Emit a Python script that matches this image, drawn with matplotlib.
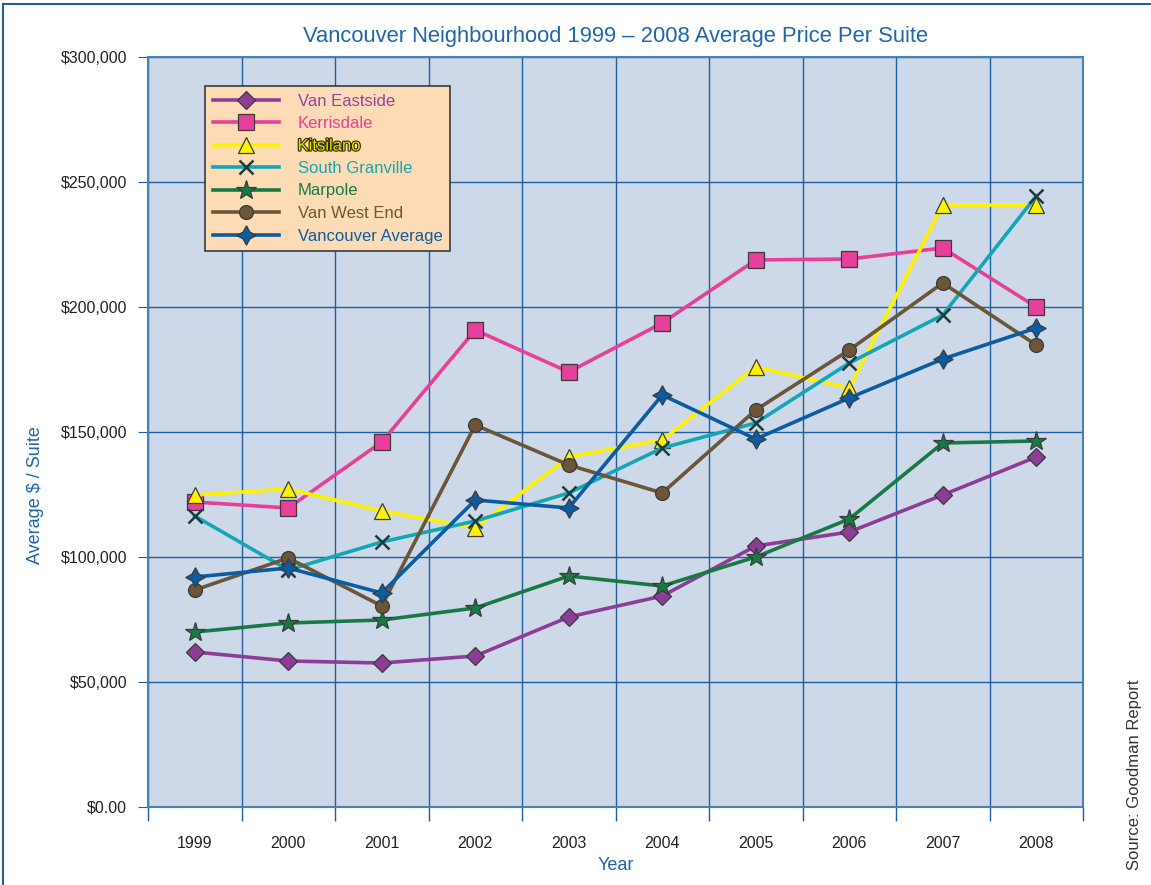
import matplotlib
matplotlib.use("Agg")
import matplotlib.pyplot as plt
from matplotlib.lines import Line2D
from matplotlib.ticker import FixedLocator, FuncFormatter
import matplotlib.patheffects as pe

plt.rcParams['font.family'] = ['Liberation Sans', 'DejaVu Sans']

years = ["1999", "2000", "2001", "2002", "2003", "2004", "2005", "2006", "2007", "2008"]
van_eastside = [62000, 58400, 57600, 60400, 76000, 84400, 104400, 110000, 124800, 140000]
kerrisdale = [122000, 119600, 146000, 190800, 174000, 193600, 218800, 219200, 223600, 200000]
kitsilano = [124800, 127200, 118400, 111600, 140000, 146800, 176000, 167600, 240800, 240800]
south_granville = [116400, 94800, 106000, 114400, 125600, 143600, 153600, 177600, 196800, 244400]
marpole = [70000, 73600, 74800, 79600, 92400, 88400, 100000, 115200, 145600, 146400]
van_west_end = [86800, 99600, 80400, 152800, 136800, 125600, 158800, 182800, 209600, 184800]
vancouver_avg = [92000, 95600, 85600, 122800, 119600, 164800, 147200, 163600, 179200, 191600]

series = [
    ("Van Eastside", van_eastside, '#8e3d97', 'D', '#8e3d97', 9, '#9b3f9f'),
    ("Kerrisdale", kerrisdale, '#e8409a', 's', '#e8409a', 11, '#e8409a'),
    ("Kitsilano", kitsilano, '#fff200', '^', '#fff200', 12, '#fff200'),
    ("South Granville", south_granville, '#14a6b6', 'x', '#1d3b3f', 10, '#14a6b6'),
    ("Marpole", marpole, '#177a45', '*', '#177a45', 15, '#177a45'),
    ("Van West End", van_west_end, '#6b5637', 'o', '#6b5637', 10, '#6b5637'),
    ("Vancouver Average", vancouver_avg, '#0b5ca2', (4, 1, 0), '#0b5ca2', 14, '#0b5ca2'),
]

fig = plt.figure(figsize=(11.51, 8.85), dpi=100)
ax = fig.add_axes([148/1151, 1-807/885, (1083-148)/1151, (807-57)/885])
ax.set_facecolor('#cdd9e8')

x = list(range(len(years)))
handles = []
for name, vals, col, mk, mfc, ms, tcol in series:
    if mk == 'x':
        h, = ax.plot(x, vals, color=col, lw=2.6, marker=mk, ms=ms, mec=mfc, mew=1.8, zorder=3)
    else:
        h, = ax.plot(x, vals, color=col, lw=2.6, marker=mk, ms=ms, mfc=mfc, mec='#3a3a3a', mew=0.9, zorder=3)
    handles.append(h)

ax.set_xlim(-0.5, 9.5)
ax.set_ylim(0, 300000)
ax.xaxis.set_major_locator(FixedLocator(x))
ax.set_xticklabels(years)
ax.xaxis.set_minor_locator(FixedLocator([i + 0.5 for i in range(-1, 10)]))
ax.tick_params(axis='x', which='major', length=0, pad=21, labelsize=11.5, labelcolor='#222222')
ax.tick_params(axis='x', which='minor', length=10, color='#1f5fa0', width=1)
ax.yaxis.set_major_locator(FixedLocator([0, 50000, 100000, 150000, 200000, 250000, 300000]))
ax.yaxis.set_major_formatter(FuncFormatter(lambda v, p: "$0.00" if v == 0 else "${:,.0f}".format(v)))
ax.tick_params(axis='y', length=7, color='#1f5fa0', labelsize=11.5, labelcolor='#222222', pad=8)
ax.grid(True, which='minor', axis='x', color='#1f5fa0', lw=1)
ax.grid(True, which='major', axis='y', color='#1f5fa0', lw=1)
ax.set_axisbelow(True)
for s in ax.spines.values():
    s.set_color('#4a80b8')
    s.set_linewidth(1.5)

ax.set_title("Vancouver Neighbourhood 1999 \u2013 2008 Average Price Per Suite",
             color='#1d66a8', fontsize=15.8, pad=11)
ax.set_xlabel("Year", color='#1d66a8', fontsize=13, labelpad=4)
ax.set_ylabel("Average $ / Suite", color='#1d66a8', fontsize=13)
ax.yaxis.set_label_coords(-(148-44)/935, (807-495)/750)

leg = ax.legend(handles, [s[0] for s in series], loc='upper left',
                bbox_to_anchor=((205-148)/935, (807-86)/750), frameon=True,
                fancybox=False, fontsize=12, handlelength=4.0, labelspacing=0.45,
                borderpad=0.45, handletextpad=1.1, borderaxespad=0)
leg.get_frame().set_facecolor('#fddcb5')
leg.get_frame().set_edgecolor('#3a3a3a')
leg.get_frame().set_alpha(1)
leg.get_frame().set_linewidth(1.2)
for t, s in zip(leg.get_texts(), series):
    t.set_color(s[6])
    if s[0] == "Kitsilano":
        t.set_color('#e8e000')
        t.set_path_effects([pe.withStroke(linewidth=1.6, foreground='#2a2a00')])

fig.text(1134/1151, 1-775/885, "Source: Goodman Report", rotation=90, ha='center', va='center',
         fontsize=12, color='#333333')

fig.add_artist(Line2D([3/1151, 1], [1-4/885, 1-4/885], transform=fig.transFigure, color='#1f5fa0', lw=1.5))
fig.add_artist(Line2D([3/1151, 3/1151], [0, 1-4/885], transform=fig.transFigure, color='#1f5fa0', lw=1.5))

fig.savefig("out.png", dpi=100, facecolor='white')
